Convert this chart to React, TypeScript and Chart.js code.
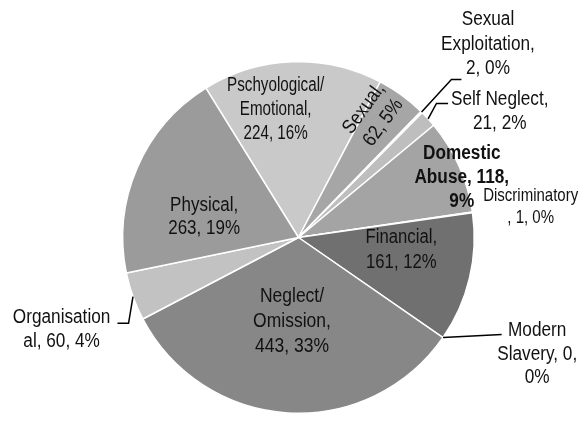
import React, { useEffect, useRef } from "react";
import { Chart, registerables } from "chart.js";

Chart.register(...registerables);

// ---- data ----
const categories = [
  "Pschyological/Emotional",
  "Sexual",
  "Sexual Exploitation",
  "Self Neglect",
  "Domestic Abuse",
  "Discriminatory",
  "Financial",
  "Modern Slavery",
  "Neglect/Omission",
  "Organisational",
  "Physical",
];
const counts = [224, 62, 2, 21, 118, 1, 161, 0, 443, 60, 263];
const percents = [16, 5, 0, 2, 9, 0, 12, 0, 33, 4, 19];

// ---- styling / layout (not data) ----
const sliceColors = [
  "#c9c9c9",
  "#a6a6a6",
  "#bcbcbc",
  "#bebebe",
  "#a4a4a4",
  "#8a8a8a",
  "#707070",
  "#5a5a5a",
  "#878787",
  "#c2c2c2",
  "#9b9b9b",
];

const wraps: string[][] = [
  ["Pschyological/", "Emotional,"],
  ["Sexual,"],
  ["Sexual", "Exploitation,"],
  ["Self Neglect,"],
  ["Domestic", "Abuse, 118,"],
  ["Discriminatory"],
  ["Financial,"],
  ["Modern", "Slavery, 0,"],
  ["Neglect/", "Omission,"],
  ["Organisation"],
  ["Physical,"],
];

type LabelLayout = {
  fx: number;
  fy: number;
  lh: number;
  fs: number; // font size px
  sx: number; // horizontal condensing
  bold?: boolean;
  rotate?: number;
  leader?: number[][];
};

const labelLayout: LabelLayout[] = [
  { fx: -0.13, fy: -0.832, lh: 23.8, fs: 20, sx: 0.76 },
  { fx: 0.42, fy: -0.699, lh: 24, fs: 20, sx: 0.86, rotate: -54 },
  { fx: 1.078, fy: -1.207, lh: 24.5, fs: 20, sx: 0.86, leader: [[0.87, -0.899], [0.927, -0.899]] },
  { fx: 1.145, fy: -0.753, lh: 23.5, fs: 20, sx: 0.86, leader: [[0.785, -0.763], [0.851, -0.763]] },
  { fx: 0.929, fy: -0.444, lh: 24, fs: 20, sx: 0.86, bold: true },
  { fx: 1.321, fy: -0.205, lh: 21.3, fs: 19, sx: 0.79 },
  { fx: 0.585, fy: 0.033, lh: 24.5, fs: 20, sx: 0.835 },
  { fx: 1.358, fy: 0.56, lh: 23.7, fs: 20, sx: 0.86, leader: [[1.156, 0.552]] },
  { fx: -0.037, fy: 0.366, lh: 25, fs: 20, sx: 0.875 },
  { fx: -1.348, fy: 0.488, lh: 23.5, fs: 20, sx: 0.86, leader: [[-0.967, 0.488], [-1.03, 0.488]] },
  { fx: -0.537, fy: -0.151, lh: 23.5, fs: 20, sx: 0.85 },
];

const FONT_FAMILY = "'Liberation Sans', Arial, sans-serif";

function buildLines(i: number): string[] {
  let rest = `${categories[i]}, ${counts[i]}, ${percents[i]}%`;
  const lines: string[] = [];
  for (const w of wraps[i]) {
    if (rest.startsWith(w)) {
      lines.push(w);
      rest = rest.slice(w.length).trim();
    }
  }
  if (rest.length) lines.push(rest);
  return lines;
}

const labelPlugin = {
  id: "pieLabels",
  afterDatasetsDraw(chart: any) {
    const ctx: CanvasRenderingContext2D = chart.ctx;
    const meta = chart.getDatasetMeta(0);
    const arcs = meta.data;
    if (!arcs.length) return;
    const a0 = arcs[0];
    const cx = a0.x;
    const cy = a0.y;
    const r = a0.outerRadius;

    ctx.save();
    ctx.fillStyle = "#111111";
    ctx.strokeStyle = "#000000";
    ctx.lineWidth = 1.5;
    ctx.textAlign = "center";
    ctx.textBaseline = "alphabetic";

    arcs.forEach((arc: any, i: number) => {
      const L = labelLayout[i];
      const lines = buildLines(i);
      ctx.font = `${L.bold ? "bold " : ""}${L.fs}px ${FONT_FAMILY}`;

      if (L.leader) {
        const mid = (arc.startAngle + arc.endAngle) / 2;
        const sx = cx + Math.cos(mid) * arc.outerRadius;
        const sy = cy + Math.sin(mid) * arc.outerRadius;
        ctx.beginPath();
        ctx.moveTo(sx, sy);
        for (const p of L.leader) ctx.lineTo(cx + p[0] * r, cy + p[1] * r);
        ctx.stroke();
      }

      const x = cx + L.fx * r;
      const y = cy + L.fy * r;
      if (L.rotate !== undefined) {
        ctx.save();
        ctx.translate(x, y);
        ctx.rotate((L.rotate * Math.PI) / 180);
        const n = lines.length;
        lines.forEach((t, k) => {
          const by = (k - (n - 1) / 2) * L.lh + L.fs * 0.36;
          ctx.save();
          ctx.translate(0, by);
          ctx.scale(L.sx, 1);
          ctx.fillText(t, 0, 0);
          ctx.restore();
        });
        ctx.restore();
      } else {
        lines.forEach((t, k) => {
          ctx.save();
          ctx.translate(x, y + k * L.lh);
          ctx.scale(L.sx, 1);
          ctx.fillText(t, 0, 0);
          ctx.restore();
        });
      }
    });
    ctx.restore();
  },
};

export default function App() {
  const ref = useRef<HTMLCanvasElement | null>(null);
  useEffect(() => {
    if (!ref.current) return;
    const chart = new Chart(ref.current, {
      type: "pie",
      data: {
        labels: categories,
        datasets: [
          {
            data: counts,
            backgroundColor: sliceColors,
            borderColor: "#ffffff",
            borderWidth: 1.5,
          },
        ],
      },
      options: {
        responsive: false,
        animation: false,
        rotation: -31.8,
        layout: { padding: { left: 122, top: 61, right: 109, bottom: 18 } },
        plugins: {
          legend: { display: false },
          tooltip: { enabled: false },
          title: { display: false },
        },
      },
      plugins: [labelPlugin],
    });
    return () => chart.destroy();
  }, []);
  return (
    <div style={{ position: "absolute", left: 0, top: 0, width: 584, height: 432, background: "#ffffff" }}>
      <canvas ref={ref} width={584} height={432} style={{ display: "block" }} />
    </div>
  );
}
